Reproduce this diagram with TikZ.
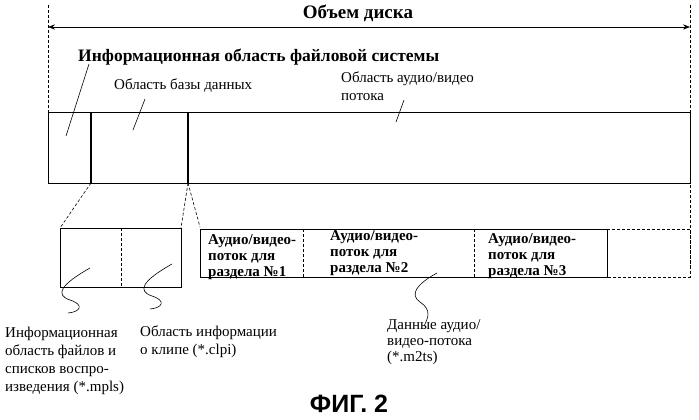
\documentclass[tikz,border=0pt]{standalone}
\usepackage{fontspec}
\setmainfont{Liberation Serif}
\newfontfamily\figfont{Liberation Sans}
\usetikzlibrary{arrows.meta}
\begin{document}
\begin{tikzpicture}[x=1pt,y=-1pt,
  lbl/.style={font=\fontsize{15}{18}\selectfont,align=left,anchor=north west,inner sep=0},
  blbl/.style={font=\bfseries\fontsize{15}{16}\selectfont,align=left,anchor=north west,inner sep=0},
  dsh/.style={densely dashed,line width=0.6pt},
  thin/.style={line width=0.6pt},
  thick2/.style={line width=1.6pt}]
\useasboundingbox (0,0) rectangle (699,420);
% volume arrow
\coordinate (vl) at (48,27); \coordinate (vr) at (690,27);
\draw[dsh] (48,5) -- (48,112);
\draw[dsh] (690,5) -- (690,270);
\draw[thin,{Stealth[length=7pt]}-{Stealth[length=7pt]}] (vl) -- (vr);
\node[font=\bfseries\fontsize{19}{22}\selectfont] (vol) at (358,13) {Объем диска};
\node[font=\bfseries\fontsize{17.5}{20}\selectfont,anchor=west,inner sep=0] (fs) at (78,57) {Информационная область файловой системы};
\node[lbl] (db) at (114,79) {Область базы данных};
\node[lbl] (av) at (341,72) {Область аудио/видео\\потока};
% main bar
\draw[thin] (48,112) rectangle (690,183);
\draw[thick2] (91,112) -- (91,183);
\draw[thick2] (188,112) -- (188,183);
\draw[thin] (89,64) -- (66,136);
\draw[thin] (145,99) -- (133,130);
\draw[thin] (404,100) -- (396,122);
% expansion
\draw[dsh] (91,183) -- (60,228);
\draw[dsh] (188,183) -- (181,228);
\draw[dsh] (188,183) -- (200,227);
\draw[thin] (60,228) rectangle (181,287);
\draw[dsh] (121,228) -- (121,287);
% stream boxes
\draw[thin] (200,229) rectangle (607,277);
\draw[dsh] (303,229) -- (303,277);
\draw[dsh] (474,229) -- (474,277);
\draw[dsh] (607,229) -- (690,229) -- (690,277) -- (607,277);
\node[blbl] (s1) at (208,234) {Аудио/видео-\\поток для\\раздела №1};
\node[blbl] (s2) at (330,230) {Аудио/видео-\\поток для\\раздела №2};
\node[blbl] (s3) at (488,233) {Аудио/видео-\\поток для\\раздела №3};
% squiggles
\draw[thin] (90,268) .. controls (60,285) and (55,295) .. (70,300) .. controls (85,305) and (80,312) .. (68,313);
\draw[thin] (172,264) .. controls (142,281) and (137,291) .. (152,296) .. controls (167,301) and (162,308) .. (150,309);
\draw[thin] (437,273) .. controls (415,285) and (410,295) .. (420,302) .. controls (432,310) and (428,318) .. (424,326);
% bottom labels
\node[lbl] (l1) at (5,327) {Информационная\\область файлов и\\списков воспро-\\изведения (*.mpls)};
\node[lbl] (l2) at (140,326) {Область информации\\о клипе (*.clpi)};
\node[lbl,font=\fontsize{15}{16}\selectfont] (l3) at (387,319) {Данные аудио/\\видео-потока\\(*.m2ts)};
\node[font=\figfont\bfseries\fontsize{25}{28}\selectfont] (fig) at (349,404) {ФИГ. 2};
\end{tikzpicture}
\end{document}
